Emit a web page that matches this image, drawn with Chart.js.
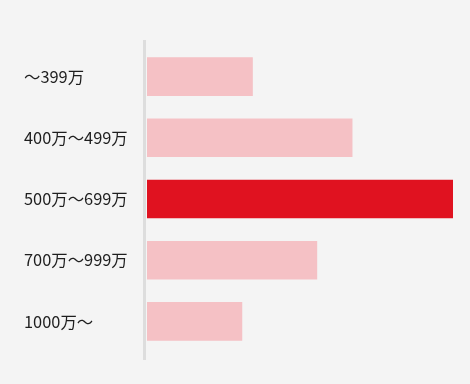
<!DOCTYPE html>
<html>
<head>
<meta charset="utf-8">
<script src="https://cdn.jsdelivr.net/npm/chart.js@4/dist/chart.umd.min.js"></script>
<style>
  html, body { margin: 0; padding: 0; background: #f4f4f4; }
  #wrap { width: 470px; height: 384px; }
</style>
</head>
<body>
<div id="wrap"><canvas id="myChart" width="470" height="384"></canvas></div>
<script>
// income bands and share of each (%)
const categories = ['〜399万', '400万〜499万', '500万〜699万', '700万〜999万', '1000万〜'];
const values = [12.0, 23.3, 34.7, 19.3, 10.8];

const highlight = values.indexOf(Math.max(...values));
const colors = values.map((v, i) => i === highlight ? '#e01220' : '#f5c1c5');

// grey line left of the bars, a bit longer than the plot area
const axisLine = {
    id: 'axisLine',
    beforeDatasetsDraw(chart) {
        const ctx = chart.ctx;
        const area = chart.chartArea;
        ctx.save();
        ctx.strokeStyle = '#dddddd';
        ctx.lineWidth = 3;
        ctx.beginPath();
        ctx.moveTo(area.left - 2.5, area.top - 6);
        ctx.lineTo(area.left - 2.5, area.bottom + 8);
        ctx.stroke();
        ctx.restore();
    }
};

const ctx = document.getElementById('myChart').getContext('2d');
new Chart(ctx, {
    type: 'bar',
    data: {
        labels: categories,
        datasets: [{
            data: values,
            backgroundColor: colors,
            borderWidth: 0,
            categoryPercentage: 1,
            barPercentage: 0.63
        }]
    },
    options: {
        indexAxis: 'y',
        responsive: false,
        animation: false,
        layout: { padding: { left: 24, top: 46, bottom: 32, right: 17 } },
        plugins: {
            legend: { display: false },
            tooltip: { enabled: false }
        },
        scales: {
            x: {
                display: false,
                min: 0,
                max: Math.max(...values)
            },
            y: {
                grid: { display: false },
                border: { display: false },
                ticks: {
                    crossAlign: 'far',
                    color: '#1e1e1e',
                    font: { family: '"Noto Sans CJK JP", "Noto Sans"', size: 16.4 }
                },
                afterFit(scale) { scale.width = 123; }
            }
        }
    },
    plugins: [axisLine]
});
</script>
</body>
</html>
